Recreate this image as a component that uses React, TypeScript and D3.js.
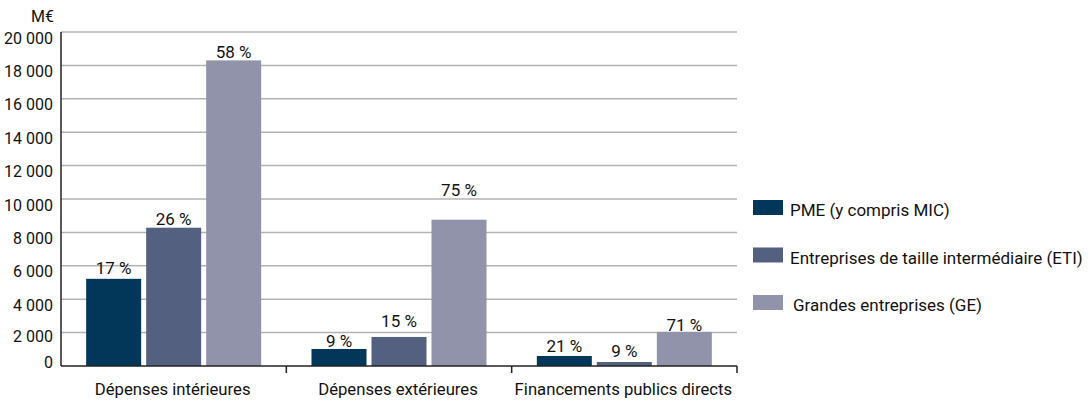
import React from "react";
import * as d3 from "d3";

const categories = ["Dépenses intérieures", "Dépenses extérieures", "Financements publics directs"];
const seriesNames = ["PME (y compris MIC)", "Entreprises de taille intermédiaire (ETI)", "Grandes entreprises (GE)"];
const seriesColors = ["#033759", "#53607f", "#9093aa"];
const pme = [5220, 1020, 600];
const eti = [8280, 1740, 240];
const ge = [18300, 8760, 2040];
const pmeLabels = ["17 %", "9 %", "21 %"];
const etiLabels = ["26 %", "15 %", "9 %"];
const geLabels = ["58 %", "75 %", "71 %"];
const yTicks = [0, 2000, 4000, 6000, 8000, 10000, 12000, 14000, 16000, 18000, 20000];

const W = 1092, H = 401;
const FONT = "Roboto, 'Liberation Sans', Arial, sans-serif";
const FS = 17;

// layout: gap between bar top and its label baseline [series][category]
const labelGap = [
  [5, 2, 4],
  [3, 10, 5],
  [2, 24, 1],
];
const tickLabelShift = (t: number) => (t === 0 ? -4 : t === 2000 ? 3.5 : 6);

export default function App() {
  const left = 61, right = 737, top = 32, bottom = 366;
  const x = d3.scaleBand<string>().domain(categories).range([left, right]).paddingInner(0).paddingOuter(0);
  const y = d3.scaleLinear().domain([0, 20000]).range([bottom, top]);
  const series = [pme, eti, ge];
  const labels = [pmeLabels, etiLabels, geLabels];
  const barW = 55, gap = 5;
  const groupW = barW * 3 + gap * 2;
  const fmt = (v: number) => d3.format(",")(v).replace(/,/g, " ");

  return (
    <svg width={W} height={H} style={{ position: "absolute", left: 0, top: 0 }} fontFamily={FONT}>
      <rect width={W} height={H} fill="#fff" />
      {yTicks.map((t) => (
        <g key={t}>
          {t > 0 && <line x1={left} x2={right} y1={y(t)} y2={y(t)} stroke="#b3b3b3" strokeWidth={1.5} />}
          <text x={53} y={y(t) + tickLabelShift(t)} dy="0.35em" textAnchor="end" fontSize={16} fill="#111">{fmt(t)}</text>
        </g>
      ))}
      <text x={54} y={16} dy="0.35em" textAnchor="end" fontSize={16} fill="#111">M€</text>
      {categories.map((c, ci) => {
        const cx = (x(c) as number) + x.bandwidth() / 2;
        const x0 = cx - groupW / 2;
        return (
          <g key={c}>
            {series.map((s, si) => {
              const bx = x0 + si * (barW + gap);
              return (
                <g key={si}>
                  <rect x={bx} y={y(s[ci])} width={barW} height={bottom - y(s[ci])} fill={seriesColors[si]} />
                  <text x={bx + barW / 2} y={y(s[ci]) - labelGap[si][ci]} textAnchor="middle" fontSize={FS} fill="#111">{labels[si][ci]}</text>
                </g>
              );
            })}
            <text x={cx - 1} y={395} textAnchor="middle" fontSize={16.7} fill="#111">{c}</text>
          </g>
        );
      })}
      <line x1={left} x2={left} y1={top} y2={bottom} stroke="#222" strokeWidth={1.5} />
      <line x1={left} x2={right} y1={bottom} y2={bottom} stroke="#222" strokeWidth={1.5} />
      {categories.map((c) => {
        const bx = (x(c) as number) + x.bandwidth();
        return <line key={c} x1={bx} x2={bx} y1={bottom} y2={bottom + 7} stroke="#222" strokeWidth={1.5} />;
      })}
      {seriesNames.map((n, i) => (
        <g key={n} transform={`translate(753, ${207.5 + i * 47.5})`}>
          <rect x={0} y={-7.5} width={30} height={15} fill={seriesColors[i]} />
          <text x={37 + (i === 2 ? 3 : 0)} y={3} dy="0.35em" fontSize={FS} fill="#111">{n}</text>
        </g>
      ))}
    </svg>
  );
}
